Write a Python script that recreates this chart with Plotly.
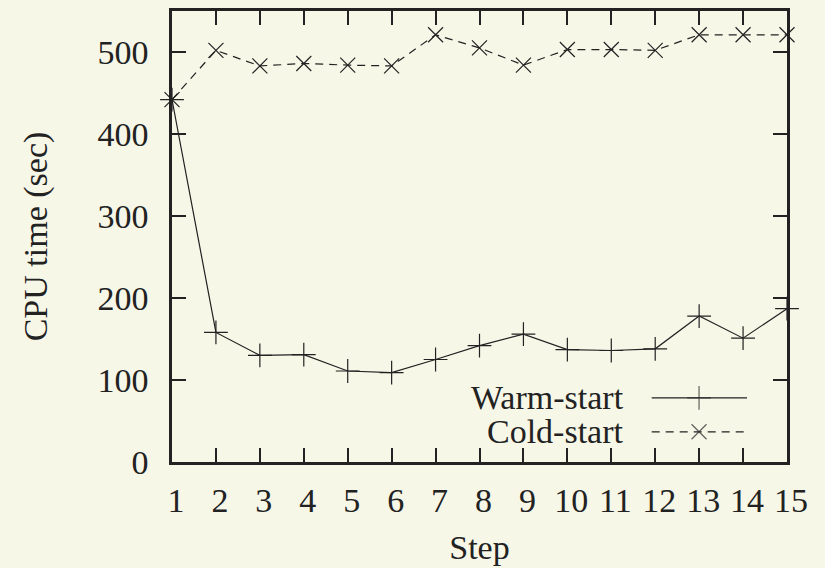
import plotly.graph_objects as go

steps = list(range(1, 16))
warm_start = [442, 158, 130, 131, 111, 109, 125, 142, 156, 137, 136, 138, 178, 151, 187]
cold_start = [442, 502, 483, 486, 484, 483, 521, 505, 484, 503, 503, 502, 521, 521, 521]
x_ticks = list(range(1, 16))
y_ticks = [0, 100, 200, 300, 400, 500]
series_names = ["Warm-start", "Cold-start"]

INK = "#222222"
BG = "#f7f7e8"
FONT = "Liberation Serif"
FS = 34

fig = go.Figure()
fig.add_trace(go.Scatter(
    x=steps, y=warm_start, mode="lines+markers", name=series_names[0],
    line=dict(color=INK, width=1.2),
    marker=dict(symbol="cross-thin-open", size=17, line=dict(color=INK, width=1.2)),
    showlegend=False, cliponaxis=False))
fig.add_trace(go.Scatter(
    x=steps, y=cold_start, mode="lines+markers", name=series_names[1],
    line=dict(color=INK, width=1.2, dash="8px,6px"),
    marker=dict(symbol="x-thin-open", size=15, line=dict(color=INK, width=1.2)),
    showlegend=False, cliponaxis=False))

# legend samples on an overlay axis (0..1)
leg_x = [0.780, 0.857, 0.935]
leg_y = [0.142, 0.067]
fig.add_trace(go.Scatter(
    x=leg_x, y=[leg_y[0]] * 3, xaxis="x2", yaxis="y2", mode="lines+markers",
    line=dict(color=INK, width=1.2),
    marker=dict(symbol="cross-thin-open", size=[0, 17, 0], line=dict(color=INK, width=1.2)),
    showlegend=False, hoverinfo="skip"))
fig.add_trace(go.Scatter(
    x=leg_x, y=[leg_y[1]] * 3, xaxis="x2", yaxis="y2", mode="lines+markers",
    line=dict(color=INK, width=1.2, dash="8px,6px"),
    marker=dict(symbol="x-thin-open", size=[0, 15, 0], line=dict(color=INK, width=1.2)),
    showlegend=False, hoverinfo="skip"))
for name, yy in zip(series_names, leg_y):
    fig.add_annotation(x=0.738, y=yy, xref="paper", yref="paper", text=name,
                       showarrow=False, xanchor="right", yanchor="middle",
                       font=dict(family=FONT, size=FS, color=INK))

axis_common = dict(showline=True, linecolor=INK, linewidth=2.5, mirror="ticks",
                   ticks="inside", ticklen=14, tickwidth=2, tickcolor=INK,
                   showgrid=False, zeroline=False,
                   tickfont=dict(family=FONT, size=FS, color=INK))

fig.update_layout(
    width=825, height=568,
    margin=dict(l=172, r=38, t=8, b=104),
    paper_bgcolor=BG, plot_bgcolor=BG,
    font=dict(family=FONT, size=FS, color=INK),
    xaxis=dict(range=[1, 15], tickvals=x_ticks, ticktext=[str(v) for v in x_ticks],
               title=dict(text="Step", font=dict(family=FONT, size=FS, color=INK), standoff=18),
               ticklabelstandoff=6, ticklabelshift=4, **axis_common),
    yaxis=dict(range=[0, 550], tickvals=y_ticks, ticktext=[str(v) for v in y_ticks],
               title=dict(text="CPU time (sec)", font=dict(family=FONT, size=FS, color=INK), standoff=40),
               ticklabelstandoff=14, **axis_common),
    xaxis2=dict(range=[0, 1], overlaying="x", visible=False),
    yaxis2=dict(range=[0, 1], overlaying="y", visible=False),
)

fig.write_html("out.html")
